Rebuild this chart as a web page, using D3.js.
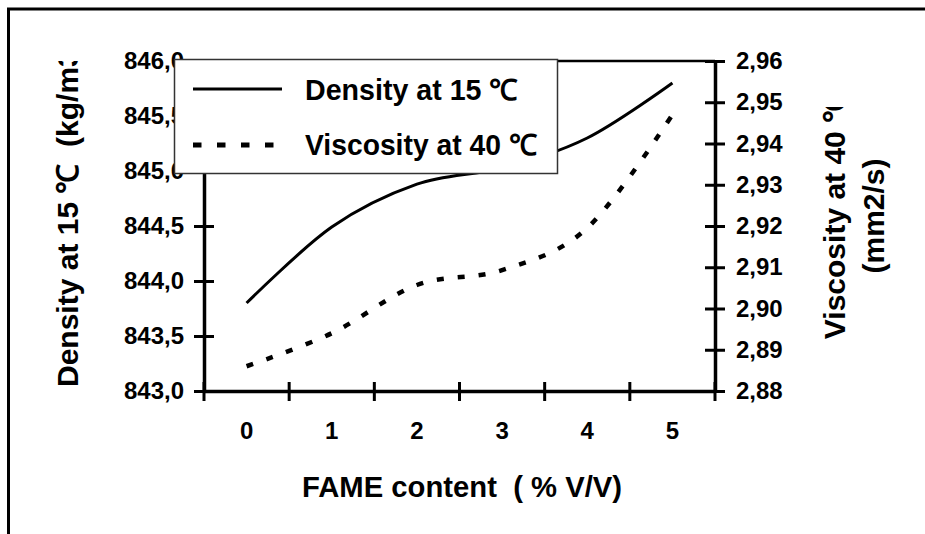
<!DOCTYPE html>
<html>
<head>
<meta charset="utf-8">
<script src="https://cdn.jsdelivr.net/npm/d3@7"></script>
<style>
  html, body { margin: 0; padding: 0; background: #fff; overflow: hidden; }
  svg { display: block; }
  text { font-family: "Liberation Sans", Arial, sans-serif; font-weight: bold; fill: #000; white-space: pre; }
</style>
</head>
<body>
<svg id="chart" width="925" height="534"></svg>
<script>
// ---- data ----
const categories = ["0", "1", "2", "3", "4", "5"];
const density = [843.8, 844.49, 844.88, 845.03, 845.3, 845.8];
const viscosity = [2.886, 2.894, 2.9057, 2.9093, 2.9195, 2.947];
const densityTicks = [843.0, 843.5, 844.0, 844.5, 845.0, 845.5, 846.0];
const viscosityTicks = [2.88, 2.89, 2.90, 2.91, 2.92, 2.93, 2.94, 2.95, 2.96];
const seriesNames = ["Density at 15 \u2103", "Viscosity at 40 \u2103"];
const xTitle = "FAME content  ( % V/V)";
const yLeftTitle = "Density at 15 \u2103  (kg/m3)";
const yRightTitle1 = "Viscosity at 40 \u2103";
const yRightTitle2 = "(mm2/s)";

// ---- layout ----
const svg = d3.select("#chart");
const L = 204, R = 715, T = 61, B = 391;
const loc = d3.formatLocale({decimal: ",", thousands: ".", grouping: [3], currency: ["", ""]});
const f1 = loc.format(".1f"), f2 = loc.format(".2f");

const x = d3.scaleBand().domain(categories).range([L, R]).padding(0);
const yL = d3.scaleLinear().domain([843, 846]).range([B, T]);
const yR = d3.scaleLinear().domain([2.88, 2.96]).range([B, T]);

// outer border (right/bottom edges lie outside the picture)
svg.append("rect").attr("x", 8.5).attr("y", 9).attr("width", 1200).attr("height", 900)
  .attr("fill", "none").attr("stroke", "#000").attr("stroke-width", 3);

// top frame line
svg.append("line").attr("x1", L).attr("x2", R).attr("y1", T).attr("y2", T)
  .attr("stroke", "#000").attr("stroke-width", 2.5);

const tickFont = sel => sel.style("font-size", "24px").style("font-family", '"Liberation Sans", Arial, sans-serif').style("font-weight", "bold");

// left axis
const gL = svg.append("g").attr("transform", `translate(${L},0)`)
  .call(d3.axisLeft(yL).tickValues(densityTicks).tickFormat(f1).tickSizeInner(10).tickSizeOuter(0).tickPadding(10));
gL.selectAll(".tick line").attr("x1", 10).attr("stroke-width", 3);
gL.select(".domain").attr("stroke-width", 3.5);
tickFont(gL.selectAll(".tick text"));

// right axis
const gR = svg.append("g").attr("transform", `translate(${R},0)`)
  .call(d3.axisRight(yR).tickValues(viscosityTicks).tickFormat(f2).tickSizeInner(10).tickSizeOuter(0).tickPadding(11));
gR.selectAll(".tick line").attr("x1", -10).attr("stroke-width", 3);
gR.select(".domain").attr("stroke-width", 3.5);
tickFont(gR.selectAll(".tick text"));

// bottom axis
const gB = svg.append("g").attr("transform", `translate(0,${B})`)
  .call(d3.axisBottom(x).tickSize(0).tickPadding(31));
gB.select(".domain").attr("stroke-width", 3.5);
gB.selectAll(".tick line").remove();
tickFont(gB.selectAll(".tick text"));
const bounds = categories.map(c => x(c)).concat([x(categories[categories.length - 1]) + x.bandwidth()]);
gB.selectAll("line.xt").data(bounds).enter().append("line").attr("class", "xt")
  .attr("x1", d => d).attr("x2", d => d).attr("y1", -9).attr("y2", 10)
  .attr("stroke", "#000").attr("stroke-width", 3);

// series lines
const cx = c => x(c) + x.bandwidth() / 2;
const lineD = d3.line().x((d, i) => cx(categories[i])).y(d => yL(d)).curve(d3.curveCatmullRom.alpha(0));
const lineV = d3.line().x((d, i) => cx(categories[i])).y(d => yR(d)).curve(d3.curveCatmullRom.alpha(0));
svg.append("path").attr("d", lineD(density)).attr("fill", "none").attr("stroke", "#000").attr("stroke-width", 3);
svg.append("path").attr("d", lineV(viscosity)).attr("fill", "none").attr("stroke", "#000")
  .attr("stroke-width", 4.5).attr("stroke-dasharray", "7,14");

// legend
const lg = svg.append("g");
lg.append("rect").attr("x", 174.5).attr("y", 59.5).attr("width", 383).attr("height", 114)
  .attr("fill", "#fff").attr("stroke", "#333").attr("stroke-width", 1.5);
lg.append("line").attr("x1", 193).attr("x2", 282).attr("y1", 89).attr("y2", 89)
  .attr("stroke", "#000").attr("stroke-width", 3);
lg.append("line").attr("x1", 193).attr("x2", 282).attr("y1", 145).attr("y2", 145)
  .attr("stroke", "#000").attr("stroke-width", 5).attr("stroke-dasharray", "8.5,15.5");
lg.append("text").attr("x", 305).attr("y", 100).style("font-size", "29px")
  .attr("textLength", 213).attr("lengthAdjust", "spacingAndGlyphs").text(seriesNames[0]);
lg.append("text").attr("x", 305).attr("y", 155).style("font-size", "29px")
  .attr("textLength", 232).attr("lengthAdjust", "spacingAndGlyphs").text(seriesNames[1]);

// axis titles
svg.append("text").attr("x", 302).attr("y", 497).attr("text-anchor", "start")
  .style("font-size", "29px").attr("textLength", 320).attr("lengthAdjust", "spacingAndGlyphs").text(xTitle);

const defs = svg.append("defs");
defs.append("clipPath").attr("id", "clipL").append("rect").attr("x", 0).attr("y", 61).attr("width", 200).attr("height", 480);
defs.append("clipPath").attr("id", "clipR").append("rect").attr("x", 780).attr("y", 107).attr("width", 145).attr("height", 430);

svg.append("g").attr("clip-path", "url(#clipL)").append("text")
  .attr("transform", "translate(78,387) rotate(-90)").attr("text-anchor", "start")
  .style("font-size", "30px").text(yLeftTitle);
const rt = svg.append("g").attr("clip-path", "url(#clipR)");
rt.append("text").attr("transform", "translate(845,216) rotate(-90)").attr("text-anchor", "middle")
  .style("font-size", "30px").text(yRightTitle1);
svg.append("text").attr("transform", "translate(884,216) rotate(-90)").attr("text-anchor", "middle")
  .style("font-size", "30px").text(yRightTitle2);
</script>
</body>
</html>
